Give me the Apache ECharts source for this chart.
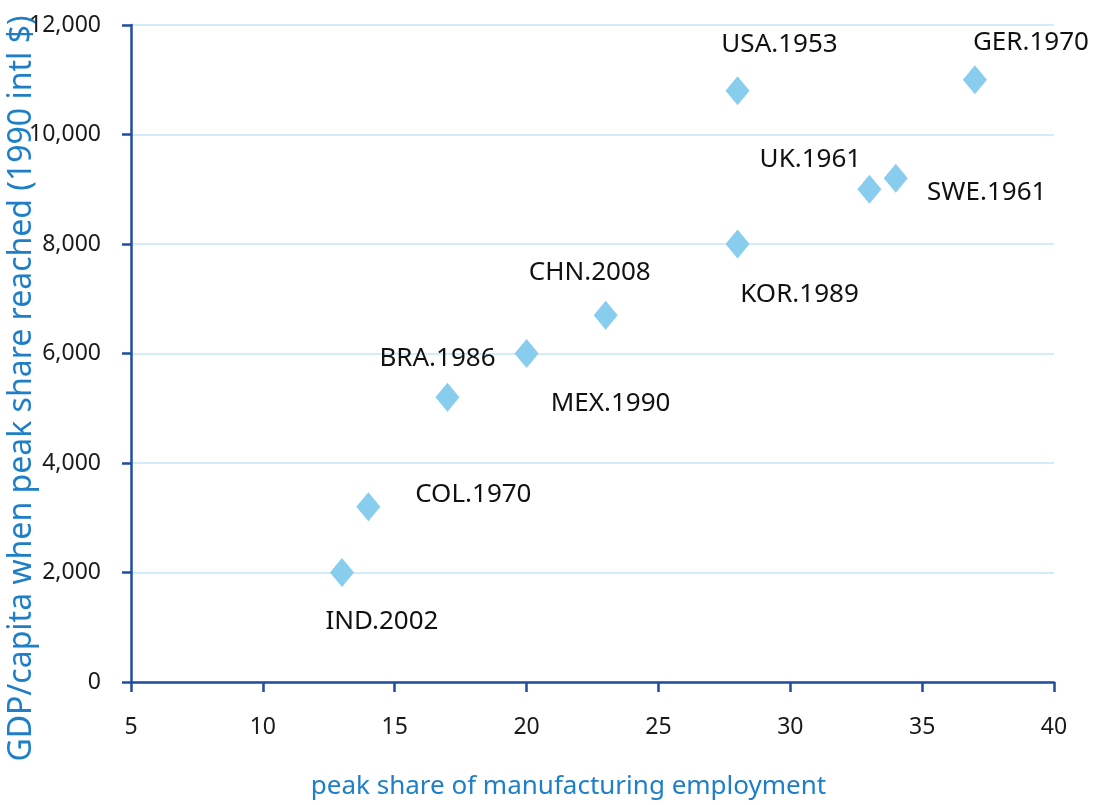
<!DOCTYPE html>
<html>
<head>
<meta charset="utf-8">
<script src="https://cdn.jsdelivr.net/npm/echarts@6/dist/echarts.min.js"></script>
<style>
  html, body { margin: 0; padding: 0; background: #ffffff; }
  #chart { width: 1093px; height: 805px; }
</style>
</head>
<body>
<div id="chart"></div>
<script>
// Country and year at which manufacturing employment share peaked
const countries = ['IND.2002', 'COL.1970', 'BRA.1986', 'MEX.1990', 'CHN.2008',
                   'KOR.1989', 'USA.1953', 'UK.1961', 'SWE.1961', 'GER.1970'];
// Peak share of manufacturing employment (%)
const peakShare = [13, 14, 17, 20, 23, 28, 28, 33, 34, 37];
// GDP per capita when the peak was reached (1990 international $)
const gdpPerCapita = [2000, 3200, 5200, 6000, 6700, 8000, 10800, 9000, 9200, 11000];

// Axis ranges / ticks
const xTicks = [5, 10, 15, 20, 25, 30, 35, 40];
const yTicks = [0, 2000, 4000, 6000, 8000, 10000, 12000];

// Where each country label sits relative to its marker (pixels)
const labelShift = {
  'IND.2002': [40, 49],
  'COL.1970': [105, -12],
  'BRA.1986': [-10, -39],
  'MEX.1990': [84, 50],
  'CHN.2008': [-16, -43],
  'KOR.1989': [62, 51],
  'USA.1953': [42, -46],
  'UK.1961':  [-59, -30],
  'SWE.1961': [91, 14],
  'GER.1970': [56, -37]
};

const FONT = '"Noto Sans", "Open Sans", sans-serif';
const AXIS_BLUE = '#1F4E9F';
const NAME_BLUE = '#1E7FC8';

const points = countries.map((name, i) => ({
  name: name,
  value: [peakShare[i], gdpPerCapita[i]],
  label: { offset: labelShift[name] }
}));

const chart = echarts.init(document.getElementById('chart'), null, { renderer: 'canvas' });

chart.setOption({
  animation: false,
  backgroundColor: '#ffffff',
  grid: { left: 131, right: 39, top: 25, bottom: 123, containLabel: false, outerBoundsMode: 'none' },
  xAxis: {
    type: 'value',
    min: xTicks[0],
    max: xTicks[xTicks.length - 1],
    interval: xTicks[1] - xTicks[0],
    name: 'peak share of manufacturing employment',
    nameLocation: 'middle',
    nameGap: 92,
    nameMoveOverlap: false,
    nameTextStyle: { color: NAME_BLUE, fontSize: 26, fontFamily: FONT, padding: [0, 48, 0, 0] },
    axisLine: { show: true, onZero: false, lineStyle: { color: AXIS_BLUE, width: 2.5 } },
    axisTick: { show: true, inside: false, length: 10, lineStyle: { color: AXIS_BLUE, width: 2.5 } },
    axisLabel: { color: '#1a1a1a', fontSize: 23, fontFamily: FONT, margin: 34 },
    splitLine: { show: false }
  },
  yAxis: {
    type: 'value',
    min: yTicks[0],
    max: yTicks[yTicks.length - 1],
    interval: yTicks[1] - yTicks[0],
    name: 'GDP/capita when peak share reached (1990 intl $)',
    nameLocation: 'middle',
    nameGap: 93,
    nameMoveOverlap: false,
    nameTextStyle: { color: NAME_BLUE, fontSize: 32, fontFamily: FONT, padding: [0, 70, 0, 0] },
    axisLine: { show: true, onZero: false, lineStyle: { color: AXIS_BLUE, width: 2.5 } },
    axisTick: { show: true, inside: false, length: 9, lineStyle: { color: AXIS_BLUE, width: 2.5 } },
    axisLabel: {
      color: '#1a1a1a', fontSize: 23, fontFamily: FONT, margin: 30,
      formatter: v => v.toLocaleString('en-US')
    },
    splitLine: { show: true, lineStyle: { color: '#C3E7F7', width: 1.5 } }
  },
  series: [{
    type: 'scatter',
    symbol: 'diamond',
    symbolSize: [24, 29],
    itemStyle: { color: '#88CDEE', opacity: 1 },
    label: {
      show: true,
      position: 'inside',
      formatter: p => p.name,
      color: '#111111',
      textBorderWidth: 0,
      fontSize: 26,
      fontFamily: FONT,
      align: 'center',
      verticalAlign: 'middle'
    },
    data: points
  }]
});
</script>
</body>
</html>
